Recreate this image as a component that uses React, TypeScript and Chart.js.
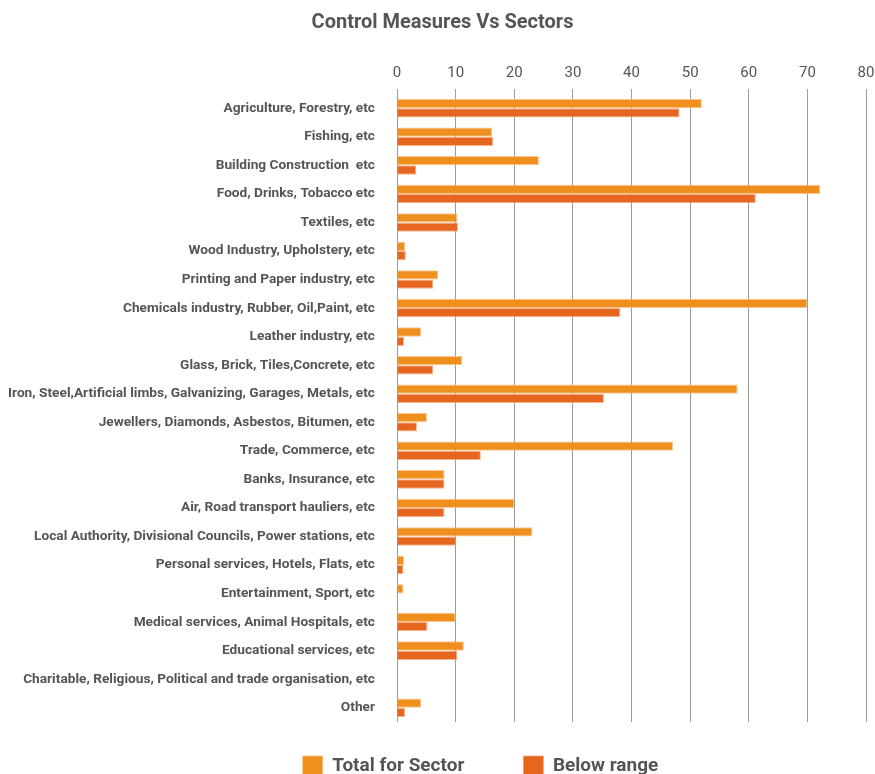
import React, { useEffect, useRef } from "react";
import { Chart, registerables } from "chart.js";

Chart.register(...registerables);

const categories: string[] = [
  "Agriculture, Forestry, etc",
  "Fishing, etc",
  "Building Construction  etc",
  "Food, Drinks, Tobacco etc",
  "Textiles, etc",
  "Wood Industry, Upholstery, etc",
  "Printing and Paper industry, etc",
  "Chemicals industry, Rubber, Oil,Paint, etc",
  "Leather industry, etc",
  "Glass, Brick, Tiles,Concrete, etc",
  "Iron, Steel,Artificial limbs, Galvanizing, Garages, Metals, etc",
  "Jewellers, Diamonds, Asbestos, Bitumen, etc",
  "Trade, Commerce, etc",
  "Banks, Insurance, etc",
  "Air, Road transport hauliers, etc",
  "Local Authority, Divisional Councils, Power stations, etc",
  "Personal services, Hotels, Flats, etc",
  "Entertainment, Sport, etc",
  "Medical services, Animal Hospitals, etc",
  "Educational services, etc",
  "Charitable, Religious, Political and trade organisation, etc",
  "Other",
];

const totalForSector: number[] = [
  52, 16.2, 24.2, 72.2, 10.3, 1.4, 7, 70, 4.1, 11.1, 58.1, 5.1, 47.1, 8.1, 20, 23.1, 1.2, 1.1, 10, 11.4, 0, 4.1,
];

const belowRange: number[] = [
  48.2, 16.4, 3.3, 61.2, 10.4, 1.5, 6.2, 38.1, 1.2, 6.2, 35.3, 3.4, 14.3, 8.1, 8.1, 10.1, 1.1, 0, 5.2, 10.3, 0, 1.4,
];

const seriesNames: string[] = ["Total for Sector", "Below range"];
const xTicks: number[] = [0, 10, 20, 30, 40, 50, 60, 70, 80];

const FONT = "'Roboto', sans-serif";
const TEXT = "#555555";

export default function App() {
  const ref = useRef<HTMLCanvasElement | null>(null);

  useEffect(() => {
    if (!ref.current) return;
    const legendPlugin = {
      id: "legendTweak",
      beforeLayout(chart: any) {
        const lg = chart.legend;
        if (lg && !lg._patched) {
          const orig = lg.fit;
          lg.fit = function () {
            orig.call(this);
            this.height = 52;
          };
          lg._patched = true;
        }
      },
      afterLayout(chart: any) {
        const lg = chart.legend;
        if (lg) {
          lg.top -= 25;
          lg.left += 43;
          lg.right += 43;
        }
        const t = chart.titleBlock;
        if (t) {
          t.left += 5;
          t.right += 5;
        }
      },
    };

    const chart = new Chart(ref.current, {
      type: "bar",
      data: {
        labels: categories,
        datasets: [
          {
            label: seriesNames[0],
            data: totalForSector,
            backgroundColor: "#EE8F1E",
            borderColor: "rgba(248,190,130,0.9)",
            borderWidth: 1,
          },
          {
            label: seriesNames[1],
            data: belowRange,
            backgroundColor: "#E6661F",
            borderColor: "rgba(242,160,115,0.8)",
            borderWidth: 1,
          },
        ],
      },
      options: {
        indexAxis: "y",
        animation: false,
        responsive: false,
        maintainAspectRatio: false,
        layout: { padding: { left: 0, right: 0, top: 0, bottom: 0 } },
        datasets: {
          bar: { categoryPercentage: 0.65, barPercentage: 1.0 },
        },
        scales: {
          x: {
            position: "top",
            min: 0,
            max: 80,
            afterBuildTicks: (scale: any) => {
              scale.ticks = xTicks.map((v) => ({ value: v }));
            },
            afterFit: (scale: any) => {
              scale.paddingRight = 9;
            },
            grid: { color: "#9a9a9a", lineWidth: 1, drawTicks: true, tickLength: 5 },
            border: { display: false },
            ticks: { color: TEXT, font: { family: FONT, size: 15 }, padding: 7 },
          },
          y: {
            grid: { display: false, drawTicks: false },
            border: { display: false },
            ticks: {
              color: TEXT,
              font: { family: FONT, size: 13.7, weight: "bold" },
              padding: 22,
              autoSkip: false,
            },
            afterFit: (scale: any) => {
              scale.width = 397;
            },
          },
        },
        plugins: {
          title: {
            display: true,
            text: "Control Measures Vs Sectors",
            color: TEXT,
            font: { family: FONT, size: 20, weight: "bold" },
            padding: { top: 11, bottom: 22 },
          },
          legend: {
            position: "bottom",
            labels: {
              boxWidth: 20,
              boxHeight: 20,
              padding: 59,
              color: TEXT,
              font: { family: FONT, size: 19, weight: "bold" },
            },
          },
          tooltip: { enabled: false },
        },
      },
      plugins: [legendPlugin],
    });
    return () => chart.destroy();
  }, []);

  return (
    <div style={{ position: "fixed", left: 0, top: 0, width: 875, height: 774, overflow: "hidden", background: "#fff" }}>
      <canvas ref={ref} width={875} height={774} style={{ width: 875, height: 774, display: "block" }} />
    </div>
  );
}
